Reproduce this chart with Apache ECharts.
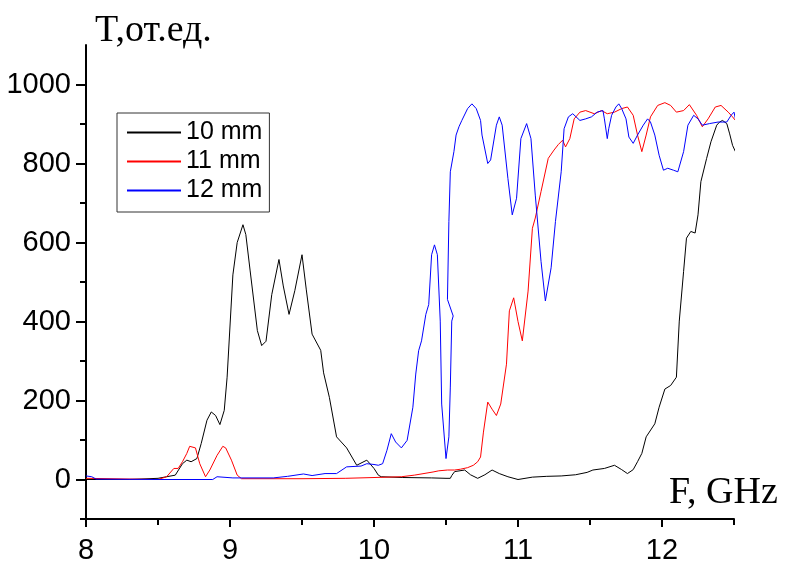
<!DOCTYPE html>
<html>
<head>
<meta charset="utf-8">
<script src="https://cdn.jsdelivr.net/npm/echarts@6/dist/echarts.min.js"></script>
<style>html,body{margin:0;padding:0;background:#fff}#c{width:787px;height:565px}</style>
</head>
<body>
<div id="c"></div>
<script>
// ---- data (F in GHz, T in arb. units) ----
const seriesNames = ['10 mm', '11 mm', '12 mm'];
const xMajorTicks = [8, 9, 10, 11, 12];
const xMinorTicks = [8.5, 9.5, 10.5, 11.5, 12.5];
const yMajorTicks = [0, 200, 400, 600, 800, 1000];
const yMinorTicks = [-100, 100, 300, 500, 700, 900];

const f10 = [8.0,8.3,8.50,8.56,8.62,8.67,8.70,8.73,8.77,8.80,8.84,8.87,8.90,8.93,8.96,8.98,9.02,9.05,9.09,9.11,9.14,9.19,9.22,9.25,9.29,9.34,9.37,9.41,9.45,9.50,9.53,9.57,9.63,9.65,9.69,9.74,9.81,9.88,9.95,10.0,10.03,10.05,10.2,10.4,10.5,10.53,10.54,10.56,10.63,10.67,10.72,10.77,10.82,10.87,10.93,11.0,11.1,11.2,11.3,11.4,11.48,11.52,11.6,11.67,11.72,11.76,11.80,11.83,11.86,11.89,11.95,11.98,12.02,12.06,12.10,12.12,12.15,12.17,12.20,12.23,12.25,12.27,12.31,12.34,12.38,12.40,12.42,12.45,12.47,12.49,12.51];
const t10 = [0,0,3,7,11,40,49,45,53,91,150,171,162,139,175,259,518,600,645,620,528,377,339,350,468,557,490,418,478,569,480,368,327,270,208,108,80,36,49,28,11,7,5,4,3,3,10,20,24,12,3,12,24,15,7,0,6,8,9,12,18,24,28,36,25,15,25,45,66,108,141,183,229,238,259,401,527,611,628,624,670,754,813,855,897,905,909,901,875,846,830];

const f11 = [8.0,8.5,8.56,8.61,8.64,8.67,8.70,8.72,8.76,8.79,8.83,8.86,8.91,8.95,8.97,9.01,9.05,9.08,9.5,9.8,10.0,10.19,10.28,10.41,10.45,10.51,10.56,10.60,10.65,10.69,10.72,10.74,10.76,10.79,10.82,10.85,10.88,10.92,10.94,10.97,11.00,11.03,11.07,11.10,11.12,11.16,11.21,11.25,11.28,11.31,11.33,11.36,11.39,11.43,11.47,11.53,11.58,11.62,11.67,11.72,11.76,11.80,11.83,11.86,11.89,11.92,11.97,12.02,12.06,12.10,12.15,12.19,12.24,12.28,12.32,12.37,12.41,12.46,12.49,12.51];
const t11 = [3,0,7,28,28,45,66,84,80,40,7,24,61,84,80,49,11,2,2,3,5,7,11,19,22,24,24,26,30,36,45,57,120,196,178,162,191,292,427,460,400,351,477,636,662,729,813,834,848,859,842,863,913,930,934,926,934,926,930,939,943,922,872,830,872,918,947,954,947,930,934,949,922,893,913,943,947,930,918,909];

const f12 = [8.0,8.04,8.07,8.5,8.88,8.91,9.02,9.30,9.40,9.51,9.57,9.66,9.74,9.81,9.91,9.95,10.0,10.03,10.06,10.09,10.12,10.15,10.19,10.23,10.27,10.29,10.31,10.33,10.36,10.38,10.40,10.42,10.44,10.46,10.47,10.50,10.52,10.53,10.54,10.55,10.51,10.52,10.53,10.555,10.57,10.59,10.61,10.65,10.68,10.71,10.74,10.75,10.79,10.81,10.85,10.87,10.89,10.93,10.96,10.99,11.02,11.06,11.09,11.12,11.16,11.19,11.23,11.26,11.30,11.32,11.35,11.38,11.43,11.47,11.51,11.55,11.59,11.60,11.62,11.63,11.65,11.68,11.70,11.72,11.75,11.77,11.80,11.83,11.87,11.90,11.92,11.95,11.98,12.01,12.04,12.08,12.11,12.15,12.18,12.22,12.25,12.28,12.33,12.39,12.45,12.48,12.50,12.51];
const t12 = [9,7,1,0,0,7,4,4,8,14,10,15,15,32,34,40,38,36,40,74,116,95,80,99,183,267,326,351,418,443,569,594,569,401,191,53,108,234,401,414,456,653,779,830,872,893,909,939,951,939,909,872,800,809,897,918,897,762,670,712,863,901,863,720,552,452,536,653,779,888,918,926,909,913,918,930,934,913,863,888,922,943,951,939,913,867,851,872,897,913,905,872,821,783,788,783,779,830,897,922,913,897,901,905,905,922,930,913];

const pairs = (xs, ys) => xs.map((x, i) => [x, ys[i]]);
const colors = ['#000000', '#ff0000', '#0000ff'];
const dataSets = [pairs(f10, t10), pairs(f11, t11), pairs(f12, t12)];

const chart = echarts.init(document.getElementById('c'), null, {renderer: 'canvas'});
const axisFont = {fontFamily: 'Liberation Sans, Arial, sans-serif', fontSize: 29, color: '#000'};
const plain = v => String(v);

chart.setOption({
  animation: false,
  backgroundColor: '#fff',
  grid: {left: 86, right: 53, top: 45, bottom: 42, containLabel: false},
  legend: {
    orient: 'vertical',
    left: 117, top: 113,
    padding: [7, 7, 9, 9],
    itemGap: 4,
    itemWidth: 54,
    itemHeight: 20,
    borderColor: '#333',
    borderWidth: 1,
    backgroundColor: '#fff',
    itemStyle: {opacity: 0},
    textStyle: {fontFamily: 'Liberation Sans, Arial, sans-serif', fontSize: 25, color: '#000'},
    data: seriesNames
  },
  xAxis: [{
    type: 'value', min: 8, max: 12.5, position: 'bottom',
    axisLine: {show: true, onZero: false, lineStyle: {color: '#000', width: 2}},
    axisTick: {show: true, length: 8, lineStyle: {color: '#000', width: 2}, customValues: xMajorTicks},
    axisLabel: Object.assign({margin: 17, customValues: xMajorTicks, formatter: plain}, axisFont),
    splitLine: {show: false}
  }, {
    type: 'value', min: 8, max: 12.5, position: 'bottom',
    axisLine: {show: false, onZero: false},
    axisTick: {show: true, length: 6, lineStyle: {color: '#000', width: 2}, customValues: xMinorTicks},
    axisLabel: {show: false},
    splitLine: {show: false}
  }],
  yAxis: [{
    type: 'value', min: -100, max: 1100, position: 'left',
    axisLine: {show: true, onZero: false, lineStyle: {color: '#000', width: 2}},
    axisTick: {show: true, length: 10, lineStyle: {color: '#000', width: 2}, customValues: yMajorTicks},
    axisLabel: Object.assign({margin: 15, customValues: yMajorTicks, formatter: plain}, axisFont),
    splitLine: {show: false}
  }, {
    type: 'value', min: -100, max: 1100, position: 'left',
    axisLine: {show: false, onZero: false},
    axisTick: {show: true, length: 6, lineStyle: {color: '#000', width: 2}, customValues: yMinorTicks},
    axisLabel: {show: false},
    splitLine: {show: false}
  }],
  graphic: [
    {type: 'text', left: 95, top: 12, style: {text: 'T,от.ед.', font: '38px "Liberation Serif", "Times New Roman", serif', fill: '#000'}},
    {type: 'text', left: 669, top: 474, style: {text: 'F, GHz', font: '38px "Liberation Serif", "Times New Roman", serif', fill: '#000'}}
  ],
  series: seriesNames.map((name, i) => ({
    name: name,
    type: 'line',
    xAxisIndex: 0, yAxisIndex: 0,
    data: dataSets[i],
    symbol: 'none',
    smooth: false,
    lineStyle: {color: colors[i], width: 1},
    itemStyle: {color: colors[i]},
    z: 2 + i
  }))
});
</script>
</body>
</html>
